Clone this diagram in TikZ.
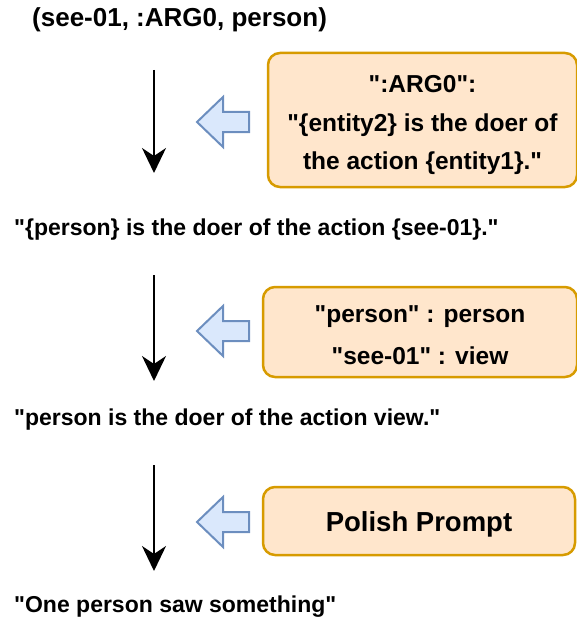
\documentclass[tikz,border=0pt]{standalone}
\usepackage{fontspec}
\setmainfont{Liberation Sans}[Ligatures=TeXOff]
\usepackage{xcolor}
\definecolor{box-fill}{HTML}{FFE6CC}
\definecolor{box-line}{HTML}{D79B00}
\definecolor{hint-fill}{HTML}{DAE8FC}
\definecolor{hint-line}{HTML}{6C8EBF}
\usetikzlibrary{arrows.meta}

\begin{document}
\begin{tikzpicture}[x=1pt,y=-1pt,
	>={Stealth[length=25pt,width=24pt,inset=8pt]},
	line/.style={font=\fontsize{23}{28}\selectfont\bfseries,anchor=base west,inner sep=0pt},
	rule/.style={draw=box-line,fill=box-fill,line width=2.5pt,rounded corners=12pt,inner sep=0pt},
	ruletext/.style={align=center,inner sep=0pt,font=\fontsize{24.5}{38.5}\selectfont\bfseries},
	hint/.style={draw=hint-line,fill=hint-fill,line width=2pt},
	flow/.style={->,line width=2pt}
	]
	\useasboundingbox (0,0) rectangle (576,623);

	\coordinate (A1) at (154,70);
	\coordinate (B1) at (154,173);
	\coordinate (A2) at (154,275);
	\coordinate (B2) at (154,381);
	\coordinate (A3) at (154,465);
	\coordinate (B3) at (154,571);

	% the four steps
	\node[line,font=\fontsize{26}{30}\selectfont\bfseries] (triple) at (32,27) {(see-01, :ARG0, person)};
	\node[line] (templ) at (14,235) {"\{person\} is the doer of the action \{see-01\}."};
	\node[line] (filled) at (14,425) {"person is the doer of the action view."};
	\node[line] (final) at (14,612) {"One person saw something"};

	\draw[flow] (A1) -- (B1);
	\draw[flow] (A2) -- (B2);
	\draw[flow] (A3) -- (B3);

	% what is applied at each step
	\node[rule,minimum width=309pt,minimum height=134pt] (argrule) at (422.5,120) {};
	\node[ruletext] (argtext) at ([yshift=-5pt]argrule.center)
		{":ARG0":\\"\{entity2\} is the doer of\\the action \{entity1\}."};
	\node[rule,minimum width=314pt,minimum height=90pt] (lexrule) at (420,332) {};
	\node[ruletext,font=\fontsize{24.5}{42}\selectfont\bfseries] (lextext) at ([yshift=-3pt]lexrule.center)
		{"person" : person\\"see-01" : view};
	\node[rule,minimum width=312pt,minimum height=68pt] (polish) at (419,521) {};
	\node[ruletext,font=\fontsize{27.5}{33}\selectfont\bfseries] (polishtext) at ([yshift=-3pt]polish.center)
		{Polish Prompt};

	\foreach \y in {122,331,522}
		\draw[hint] (197,\y) -- ++(26,-25) -- ++(0,15) -- ++(26,0) -- ++(0,20)
			-- ++(-26,0) -- ++(0,15) -- cycle;
\end{tikzpicture}
\end{document}
